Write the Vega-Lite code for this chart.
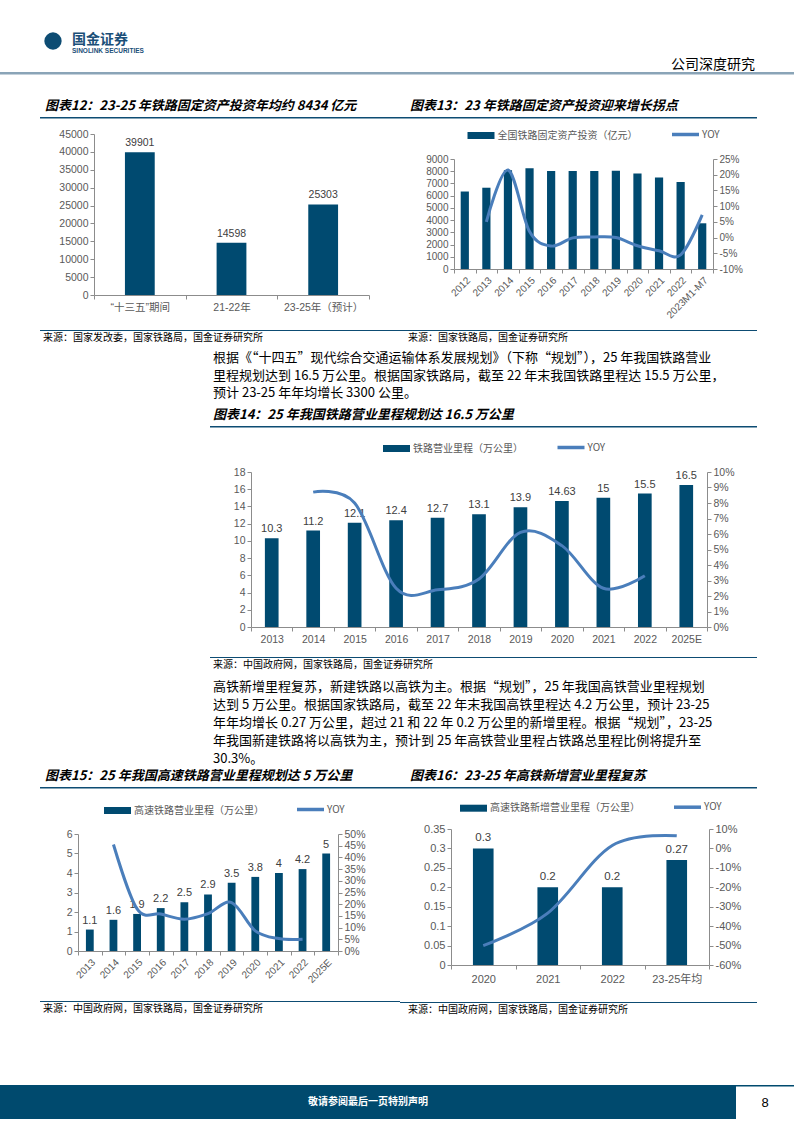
{
  "$schema": "https://vega.github.io/schema/vega-lite/v6.json",
  "background": "white",
  "padding": {"top": 32, "left": 0, "right": 0, "bottom": 0},
  "config": {
    "view": {"stroke": null},
    "font": "Liberation Sans, Noto Sans CJK SC",
    "axis": {"labelFont": "Liberation Sans, Noto Sans CJK SC", "labelFontSize": 10, "labelColor": "#595959", "domainColor": "#8c8c8c", "tickColor": "#8c8c8c", "tickSize": 4, "grid": false, "labelPadding": 2},
    "legend": {"orient": "none", "direction": "horizontal", "symbolSize": 100, "labelFont": "Noto Sans CJK SC", "labelFontSize": 10, "labelColor": "#595959", "labelOffset": 11.5, "padding": 0},
    "title": {"font": "Noto Sans CJK SC", "fontSize": 13, "fontWeight": "bold", "fontStyle": "italic", "color": "#000000", "anchor": "start", "offset": 0},
    "concat": {"spacing": 0}
  },
  "spacing": 0,
  "resolve": {"scale": {"color": "independent"}, "legend": {"color": "independent"}},
  "vconcat": [
    {"align": "none", "spacing": 0, "concat": [
      {"width": 43, "height": 18, "data": {"values": []}, "mark": "point", "encoding": {}},
      {"width": 20, "height": 18, "data": {"values": [{"k": 1}]}, "mark": {"type": "point", "shape": "circle", "filled": true, "size": 300, "color": "#0d4c73", "opacity": 1}, "encoding": {}},
      {"width": 9, "height": 1, "data": {"values": []}, "mark": "point", "encoding": {}},
      {"width": 85, "height": 0.01, "data": {"values": []}, "mark": "point", "encoding": {},
       "title": {"text": "国金证券", "subtitle": "SINOLINK SECURITIES", "orient": "bottom", "fontSize": 14, "fontWeight": "bold", "fontStyle": "normal", "color": "#1b4f78", "subtitleFont": "Liberation Sans", "subtitleFontSize": 6.5, "subtitleFontWeight": "bold", "subtitleColor": "#1b4f78", "subtitlePadding": 1, "offset": 1}},
      {"width": 508, "height": 1, "data": {"values": []}, "mark": "point", "encoding": {}},
      {"width": 90, "height": 24, "data": {"values": []}, "mark": "point", "encoding": {},
       "title": {"text": "公司深度研究", "orient": "bottom", "anchor": "end", "fontSize": 14, "fontWeight": "normal", "fontStyle": "normal", "offset": 2}}
    ]},
    {"width": 794, "height": 2.5, "view": {"fill": "#8aa4b7", "stroke": null}, "data": {"values": []}, "mark": "point", "encoding": {}},
    {"width": 1, "height": 25, "data": {"values": []}, "mark": "point", "encoding": {}},
    {"align": "none", "spacing": 0, "resolve": {"scale": {"color": "independent"}, "legend": {"color": "independent"}}, "concat": [
      {"width": 40, "height": 1, "data": {"values": []}, "mark": "point", "encoding": {}},
      {"align": "none", "columns": 1, "spacing": 0, "resolve": {"scale": {"color": "independent"}, "legend": {"color": "independent"}}, "concat": [
        {"width": 360, "height": 1.5, "view": {"fill": "#0d4c73", "stroke": null}, "data": {"values": []}, "mark": "point", "encoding": {},
         "title": {"text": "图表12：23-25 年铁路固定资产投资年均约 8434 亿元", "dx": 5}},
        {"width": 1, "height": 9.5, "data": {"values": []}, "mark": "point", "encoding": {}},
        {"spacing": 0, "concat": [
          {"width": 0.01, "height": 0.01, "data": {"values": []}, "mark": "point", "encoding": {}},
          {"width": 275, "height": 161,
           "data": {"values": [
             {"period": "“十三五”期间", "value": 39901},
             {"period": "21-22年", "value": 14598},
             {"period": "23-25年（预计）", "value": 25303}
           ]},
           "encoding": {
             "x": {"field": "period", "type": "nominal", "sort": null, "title": null,
                   "scale": {"type": "band", "paddingInner": 0, "paddingOuter": 0},
                   "axis": {"labelAngle": 0, "tickBand": "extent", "labelPadding": 3, "labelFontSize": 10.5}},
             "y": {"field": "value", "type": "quantitative", "title": null,
                   "scale": {"domain": [0, 45000], "nice": false},
                   "axis": {"values": [0, 5000, 10000, 15000, 20000, 25000, 30000, 35000, 40000, 45000], "format": "d", "minExtent": 53, "labelFontSize": 10.5}}
           },
           "layer": [
             {"mark": {"type": "bar", "width": {"band": 0.325}, "color": "#004a70"}},
             {"mark": {"type": "text", "dy": -9, "fontSize": 10.5, "color": "#404040", "font": "Liberation Sans"},
              "encoding": {"text": {"field": "value", "type": "quantitative", "format": "~g"}}}
           ]}
        ]},
        {"width": 1, "height": 17, "data": {"values": []}, "mark": "point", "encoding": {}},
        {"width": 360, "height": 1, "view": {"fill": "#0d4c73", "stroke": null}, "data": {"values": []}, "mark": "point", "encoding": {},
         "title": {"text": "来源：国家发改委，国家铁路局，国金证券研究所", "orient": "bottom", "dx": 3, "fontSize": 10, "fontWeight": "normal", "fontStyle": "normal", "offset": 2}}
      ]},
      {"align": "none", "columns": 1, "spacing": 0, "resolve": {"scale": {"color": "independent"}, "legend": {"color": "independent"}}, "concat": [
        {"width": 357, "height": 1.5, "view": {"fill": "#0d4c73", "stroke": null}, "data": {"values": []}, "mark": "point", "encoding": {},
         "title": {"text": "图表13：23 年铁路固定资产投资迎来增长拐点", "dx": 10}},
        {"width": 1, "height": 9.5, "data": {"values": []}, "mark": "point", "encoding": {}},
        {"spacing": 0, "resolve": {"scale": {"color": "independent"}, "legend": {"color": "independent"}}, "concat": [
          {"width": 0.01, "height": 0.01, "data": {"values": []}, "mark": "point", "encoding": {}},
          {"width": 259, "height": 110,
           "data": {"values": [
             {"year": "2012", "inv": 6340, "yoy": null},
             {"year": "2013", "inv": 6650, "yoy": 5.0},
             {"year": "2014", "inv": 8088, "yoy": 21.5},
             {"year": "2015", "inv": 8238, "yoy": 1.9},
             {"year": "2016", "inv": 8015, "yoy": -2.7},
             {"year": "2017", "inv": 8010, "yoy": -0.1},
             {"year": "2018", "inv": 8028, "yoy": 0.2},
             {"year": "2019", "inv": 8029, "yoy": 0.0},
             {"year": "2020", "inv": 7819, "yoy": -2.6},
             {"year": "2021", "inv": 7489, "yoy": -4.2},
             {"year": "2022", "inv": 7109, "yoy": -5.5},
             {"year": "2023M1-M7", "inv": 3740, "yoy": 7.2}
           ]},
           "encoding": {
             "x": {"field": "year", "type": "nominal", "sort": null, "title": null,
                   "scale": {"type": "band", "paddingInner": 0, "paddingOuter": 0},
                   "axis": {"labelAngle": -45, "tickBand": "extent", "labelPadding": 2}}
           },
           "layer": [
             {"mark": {"type": "bar", "width": {"band": 0.38}},
              "encoding": {
                "y": {"field": "inv", "type": "quantitative", "title": null,
                      "scale": {"domain": [0, 9000], "nice": false},
                      "axis": {"values": [0, 1000, 2000, 3000, 4000, 5000, 6000, 7000, 8000, 9000], "format": "d", "minExtent": 53}},
                "color": {"datum": "全国铁路固定资产投资（亿元）", "type": "nominal",
                          "scale": {"domain": ["全国铁路固定资产投资（亿元）", "YOY"], "range": ["#004a70", "#4a7ebb"]},
                          "legend": {"title": null, "legendX": 22, "legendY": -29.5, "columnPadding": 26.5,
                                     "encode": {"symbols": {"update": {
                                       "shape": {"signal": "datum.value === 'YOY' ? 'M-2.7,0H2.7' : 'M-2.7,-0.7H2.7V0.7H-2.7Z'"},
                                       "fill": {"signal": "datum.value === 'YOY' ? 'transparent' : '#004a70'"},
                                       "stroke": {"signal": "datum.value === 'YOY' ? '#4a7ebb' : 'transparent'"},
                                       "strokeWidth": {"signal": "datum.value === 'YOY' ? 3.5 : 0"},
                                       "opacity": {"value": 1}}}}}}
              }},
             {"mark": {"type": "line", "interpolate": "cardinal", "strokeWidth": 3},
              "encoding": {
                "y": {"field": "yoy", "type": "quantitative", "title": null,
                      "scale": {"domain": [-10, 25], "nice": false, "zero": false},
                      "axis": {"orient": "right", "values": [-10, -5, 0, 5, 10, 15, 20, 25], "labelExpr": "datum.value + '%'"}},
                "color": {"datum": "YOY", "type": "nominal"}
              }}
           ],
           "resolve": {"scale": {"y": "independent"}}}
        ]},
        {"width": 1, "height": 9.5, "data": {"values": []}, "mark": "point", "encoding": {}},
        {"width": 357, "height": 1, "view": {"fill": "#0d4c73", "stroke": null}, "data": {"values": []}, "mark": "point", "encoding": {},
         "title": {"text": "来源：国家铁路局，国金证券研究所", "orient": "bottom", "dx": 8, "fontSize": 10, "fontWeight": "normal", "fontStyle": "normal", "offset": 2}}
      ]}
    ]},
    {"width": 1, "height": 9, "data": {"values": []}, "mark": "point", "encoding": {}},
    {"align": "none", "spacing": 0, "resolve": {"scale": {"color": "independent"}, "legend": {"color": "independent"}}, "concat": [
      {"width": 210, "height": 1, "data": {"values": []}, "mark": "point", "encoding": {}},
      {"align": "none", "columns": 1, "spacing": 0, "resolve": {"scale": {"color": "independent"}, "legend": {"color": "independent"}}, "concat": [
        {"width": 547, "height": 1, "data": {"values": []}, "mark": "point", "encoding": {},
         "title": {"text": ["根据《“十四五”现代综合交通运输体系发展规划》（下称“规划”），25 年我国铁路营业", "里程规划达到 16.5 万公里。根据国家铁路局，截至 22 年末我国铁路里程达 15.5 万公里，", "预计 23-25 年年均增长 3300 公里。"],
                   "fontSize": 13, "fontWeight": "normal", "fontStyle": "normal", "lineHeight": 17.5, "dx": 3, "offset": 0}},
        {"width": 1, "height": 8, "data": {"values": []}, "mark": "point", "encoding": {}},
        {"width": 547, "height": 1.5, "view": {"fill": "#0d4c73", "stroke": null}, "data": {"values": []}, "mark": "point", "encoding": {},
         "title": {"text": "图表14：25 年我国铁路营业里程规划达 16.5 万公里", "dx": 3}},
        {"width": 1, "height": 14, "data": {"values": []}, "mark": "point", "encoding": {}},
        {"spacing": 0, "resolve": {"scale": {"color": "independent"}, "legend": {"color": "independent"}}, "concat": [
          {"width": 0.01, "height": 0.01, "data": {"values": []}, "mark": "point", "encoding": {}},
          {"width": 456, "height": 155,
           "data": {"values": [
             {"year": "2013", "km": 10.3, "yoy": null},
             {"year": "2014", "km": 11.2, "yoy": 8.7},
             {"year": "2015", "km": 12.1, "yoy": 8.0},
             {"year": "2016", "km": 12.4, "yoy": 2.5},
             {"year": "2017", "km": 12.7, "yoy": 2.4},
             {"year": "2018", "km": 13.1, "yoy": 3.1},
             {"year": "2019", "km": 13.9, "yoy": 6.1},
             {"year": "2020", "km": 14.63, "yoy": 5.25},
             {"year": "2021", "km": 15, "yoy": 2.5},
             {"year": "2022", "km": 15.5, "yoy": 3.3},
             {"year": "2025E", "km": 16.5, "yoy": null}
           ]},
           "encoding": {
             "x": {"field": "year", "type": "nominal", "sort": null, "title": null,
                   "scale": {"type": "band", "paddingInner": 0, "paddingOuter": 0},
                   "axis": {"labelAngle": 0, "tickBand": "extent", "labelPadding": 3, "labelFontSize": 10.5}}
           },
           "layer": [
             {"encoding": {"y": {"field": "km", "type": "quantitative", "title": null,
                                 "scale": {"domain": [0, 18], "nice": false},
                                 "axis": {"values": [0, 2, 4, 6, 8, 10, 12, 14, 16, 18], "minExtent": 40, "labelFontSize": 10.5}}},
              "layer": [
                {"mark": {"type": "bar", "width": {"band": 0.33}},
                 "encoding": {"color": {"datum": "铁路营业里程（万公里）", "type": "nominal",
                          "scale": {"domain": ["铁路营业里程（万公里）", "YOY"], "range": ["#004a70", "#4a7ebb"]},
                          "legend": {"title": null, "legendX": 140.5, "legendY": -29.5, "columnPadding": 26.5,
                                     "encode": {"symbols": {"update": {
                                       "shape": {"signal": "datum.value === 'YOY' ? 'M-2.7,0H2.7' : 'M-2.7,-0.7H2.7V0.7H-2.7Z'"},
                                       "fill": {"signal": "datum.value === 'YOY' ? 'transparent' : '#004a70'"},
                                       "stroke": {"signal": "datum.value === 'YOY' ? '#4a7ebb' : 'transparent'"},
                                       "strokeWidth": {"signal": "datum.value === 'YOY' ? 3.5 : 0"},
                                       "opacity": {"value": 1}}}}}}}},
                {"mark": {"type": "text", "dy": -9, "fontSize": 11, "color": "#404040", "font": "Liberation Sans"},
                 "encoding": {"text": {"field": "km", "type": "quantitative", "format": "~g"}}}
              ]},
             {"mark": {"type": "line", "interpolate": "cardinal", "strokeWidth": 3},
              "encoding": {
                "y": {"field": "yoy", "type": "quantitative", "title": null,
                      "scale": {"domain": [0, 10], "nice": false},
                      "axis": {"orient": "right", "values": [0, 1, 2, 3, 4, 5, 6, 7, 8, 9, 10], "labelExpr": "datum.value + '%'", "labelFontSize": 10.5}},
                "color": {"datum": "YOY", "type": "nominal"}
              }}
           ],
           "resolve": {"scale": {"y": "independent"}}}
        ]},
        {"width": 1, "height": 11.5, "data": {"values": []}, "mark": "point", "encoding": {}},
        {"width": 547, "height": 1, "view": {"fill": "#0d4c73", "stroke": null}, "data": {"values": []}, "mark": "point", "encoding": {},
         "title": {"text": "来源：中国政府网，国家铁路局，国金证券研究所", "orient": "bottom", "dx": 3, "fontSize": 10, "fontWeight": "normal", "fontStyle": "normal", "offset": 2}}
      ]}
    ]},
    {"width": 1, "height": 10.5, "data": {"values": []}, "mark": "point", "encoding": {}},
    {"align": "none", "spacing": 0, "concat": [
      {"width": 210, "height": 1, "data": {"values": []}, "mark": "point", "encoding": {}},
      {"width": 547, "height": 1, "data": {"values": []}, "mark": "point", "encoding": {},
       "title": {"text": ["高铁新增里程复苏，新建铁路以高铁为主。根据“规划”，25 年我国高铁营业里程规划", "达到 5 万公里。根据国家铁路局，截至 22 年末我国高铁里程达 4.2 万公里，预计 23-25", "年年均增长 0.27 万公里，超过 21 和 22 年 0.2 万公里的新增里程。根据“规划”，23-25", "年我国新建铁路将以高铁为主，预计到 25 年高铁营业里程占铁路总里程比例将提升至", "30.3%。"],
                 "fontSize": 13, "fontWeight": "normal", "fontStyle": "normal", "lineHeight": 18, "dx": 3, "offset": 0}}
    ]},
    {"width": 1, "height": 3, "data": {"values": []}, "mark": "point", "encoding": {}},
    {"align": "none", "spacing": 0, "resolve": {"scale": {"color": "independent"}, "legend": {"color": "independent"}}, "concat": [
      {"width": 40, "height": 1, "data": {"values": []}, "mark": "point", "encoding": {}},
      {"align": "none", "columns": 1, "spacing": 0, "resolve": {"scale": {"color": "independent"}, "legend": {"color": "independent"}}, "concat": [
        {"width": 360, "height": 1.5, "view": {"fill": "#0d4c73", "stroke": null}, "data": {"values": []}, "mark": "point", "encoding": {},
         "title": {"text": "图表15：25 年我国高速铁路营业里程规划达 5 万公里", "dx": 5}},
        {"width": 1, "height": 14.5, "data": {"values": []}, "mark": "point", "encoding": {}},
        {"spacing": 0, "resolve": {"scale": {"color": "independent"}, "legend": {"color": "independent"}}, "concat": [
          {"width": 0.01, "height": 0.01, "data": {"values": []}, "mark": "point", "encoding": {}},
          {"width": 260, "height": 117,
           "data": {"values": [
             {"year": "2013", "km": 1.1, "yoy": null},
             {"year": "2014", "km": 1.6, "yoy": 45.5},
             {"year": "2015", "km": 1.9, "yoy": 18.0},
             {"year": "2016", "km": 2.2, "yoy": 15.8},
             {"year": "2017", "km": 2.5, "yoy": 13.6},
             {"year": "2018", "km": 2.9, "yoy": 16.0},
             {"year": "2019", "km": 3.5, "yoy": 20.7},
             {"year": "2020", "km": 3.8, "yoy": 8.6},
             {"year": "2021", "km": 4, "yoy": 5.3},
             {"year": "2022", "km": 4.2, "yoy": 5.0},
             {"year": "2025E", "km": 5, "yoy": null}
           ]},
           "encoding": {
             "x": {"field": "year", "type": "nominal", "sort": null, "title": null,
                   "scale": {"type": "band", "paddingInner": 0, "paddingOuter": 0},
                   "axis": {"labelAngle": -45, "tickBand": "extent", "labelPadding": 2}}
           },
           "layer": [
             {"encoding": {"y": {"field": "km", "type": "quantitative", "title": null,
                                 "scale": {"domain": [0, 6], "nice": false},
                                 "axis": {"values": [0, 1, 2, 3, 4, 5, 6], "minExtent": 37, "labelFontSize": 10.5}}},
              "layer": [
                {"mark": {"type": "bar", "width": {"band": 0.33}},
                 "encoding": {"color": {"datum": "高速铁路营业里程（万公里）", "type": "nominal",
                          "scale": {"domain": ["高速铁路营业里程（万公里）", "YOY"], "range": ["#004a70", "#4a7ebb"]},
                          "legend": {"title": null, "legendX": 34.5, "legendY": -29.5, "columnPadding": 25,
                                     "encode": {"symbols": {"update": {
                                       "shape": {"signal": "datum.value === 'YOY' ? 'M-2.7,0H2.7' : 'M-2.7,-0.7H2.7V0.7H-2.7Z'"},
                                       "fill": {"signal": "datum.value === 'YOY' ? 'transparent' : '#004a70'"},
                                       "stroke": {"signal": "datum.value === 'YOY' ? '#4a7ebb' : 'transparent'"},
                                       "strokeWidth": {"signal": "datum.value === 'YOY' ? 3.5 : 0"},
                                       "opacity": {"value": 1}}}}}}}},
                {"mark": {"type": "text", "dy": -9, "fontSize": 11, "color": "#404040", "font": "Liberation Sans"},
                 "encoding": {"text": {"field": "km", "type": "quantitative", "format": "~g"}}}
              ]},
             {"mark": {"type": "line", "interpolate": "cardinal", "strokeWidth": 3},
              "encoding": {
                "y": {"field": "yoy", "type": "quantitative", "title": null,
                      "scale": {"domain": [0, 50], "nice": false},
                      "axis": {"orient": "right", "values": [0, 5, 10, 15, 20, 25, 30, 35, 40, 45, 50], "labelExpr": "datum.value + '%'", "labelFontSize": 10.5}},
                "color": {"datum": "YOY", "type": "nominal"}
              }}
           ],
           "resolve": {"scale": {"y": "independent"}}}
        ]},
        {"width": 1, "height": 16, "data": {"values": []}, "mark": "point", "encoding": {}},
        {"width": 360, "height": 1, "view": {"fill": "#0d4c73", "stroke": null}, "data": {"values": []}, "mark": "point", "encoding": {},
         "title": {"text": "来源：中国政府网，国家铁路局，国金证券研究所", "orient": "bottom", "dx": 3, "fontSize": 10, "fontWeight": "normal", "fontStyle": "normal", "offset": 2}}
      ]},
      {"align": "none", "columns": 1, "spacing": 0, "resolve": {"scale": {"color": "independent"}, "legend": {"color": "independent"}}, "concat": [
        {"width": 357, "height": 1.5, "view": {"fill": "#0d4c73", "stroke": null}, "data": {"values": []}, "mark": "point", "encoding": {},
         "title": {"text": "图表16：23-25 年高铁新增营业里程复苏", "dx": 10}},
        {"width": 1, "height": 12.5, "data": {"values": []}, "mark": "point", "encoding": {}},
        {"spacing": 0, "resolve": {"scale": {"color": "independent"}, "legend": {"color": "independent"}}, "concat": [
          {"width": 0.01, "height": 0.01, "data": {"values": []}, "mark": "point", "encoding": {}},
          {"width": 258, "height": 136,
           "data": {"values": [
             {"year": "2020", "km": 0.3, "yoy": -50},
             {"year": "2021", "km": 0.2, "yoy": -33.3},
             {"year": "2022", "km": 0.2, "yoy": 1.5},
             {"year": "23-25年均", "km": 0.27, "yoy": 6.5}
           ]},
           "encoding": {
             "x": {"field": "year", "type": "nominal", "sort": null, "title": null,
                   "scale": {"type": "band", "paddingInner": 0, "paddingOuter": 0},
                   "axis": {"labelAngle": 0, "tickBand": "extent", "labelPadding": 4, "labelFontSize": 11}}
           },
           "layer": [
             {"encoding": {"y": {"field": "km", "type": "quantitative", "title": null,
                                 "scale": {"domain": [0, 0.35], "nice": false},
                                 "axis": {"values": [0, 0.05, 0.1, 0.15, 0.2, 0.25, 0.3, 0.35], "format": "~g", "minExtent": 50, "labelFontSize": 11}}},
              "layer": [
                {"mark": {"type": "bar", "width": {"band": 0.32}},
                 "encoding": {"color": {"datum": "高速铁路新增营业里程（万公里）", "type": "nominal",
                          "scale": {"domain": ["高速铁路新增营业里程（万公里）", "YOY"], "range": ["#004a70", "#4a7ebb"]},
                          "legend": {"title": null, "legendX": 17.5, "legendY": -26.8, "columnPadding": 26,
                                     "encode": {"symbols": {"update": {
                                       "shape": {"signal": "datum.value === 'YOY' ? 'M-2.7,0H2.7' : 'M-2.7,-0.7H2.7V0.7H-2.7Z'"},
                                       "fill": {"signal": "datum.value === 'YOY' ? 'transparent' : '#004a70'"},
                                       "stroke": {"signal": "datum.value === 'YOY' ? '#4a7ebb' : 'transparent'"},
                                       "strokeWidth": {"signal": "datum.value === 'YOY' ? 3.5 : 0"},
                                       "opacity": {"value": 1}}}}}}}},
                {"mark": {"type": "text", "dy": -10, "fontSize": 11.5, "color": "#404040", "font": "Liberation Sans"},
                 "encoding": {"text": {"field": "km", "type": "quantitative", "format": "~g"}}}
              ]},
             {"mark": {"type": "line", "interpolate": "cardinal", "strokeWidth": 3},
              "encoding": {
                "y": {"field": "yoy", "type": "quantitative", "title": null,
                      "scale": {"domain": [-60, 10], "nice": false, "zero": false},
                      "axis": {"orient": "right", "values": [-60, -50, -40, -30, -20, -10, 0, 10], "labelExpr": "datum.value + '%'", "labelFontSize": 11}},
                "color": {"datum": "YOY", "type": "nominal"}
              }}
           ],
           "resolve": {"scale": {"y": "independent"}}}
        ]},
        {"width": 1, "height": 18, "data": {"values": []}, "mark": "point", "encoding": {}},
        {"width": 357, "height": 1, "view": {"fill": "#0d4c73", "stroke": null}, "data": {"values": []}, "mark": "point", "encoding": {},
         "title": {"text": "来源：中国政府网，国家铁路局，国金证券研究所", "orient": "bottom", "dx": 8, "fontSize": 10, "fontWeight": "normal", "fontStyle": "normal", "offset": 2}}
      ]}
    ]},
    {"width": 1, "height": 69.5, "data": {"values": []}, "mark": "point", "encoding": {}},
    {"align": "none", "spacing": 0, "concat": [
      {"width": 736, "height": 34, "view": {"fill": "#004a6e", "stroke": null},
       "data": {"values": [{"t": "敬请参阅最后一页特别声明"}]},
       "mark": {"type": "text", "color": "#ffffff", "fontSize": 10, "font": "Noto Sans CJK SC", "fontWeight": "bold"},
       "encoding": {"text": {"field": "t", "type": "nominal"}}},
      {"align": "none", "columns": 1, "spacing": 0, "concat": [
        {"width": 58, "height": 1.5, "view": {"fill": "#004a6e", "stroke": null}, "data": {"values": []}, "mark": "point", "encoding": {}},
        {"width": 58, "height": 32.5, "data": {"values": [{"p": "8"}]},
         "mark": {"type": "text", "color": "#000000", "fontSize": 13, "font": "Liberation Sans"},
         "encoding": {"text": {"field": "p", "type": "nominal"}}}
      ]}
    ]}
  ]
}
